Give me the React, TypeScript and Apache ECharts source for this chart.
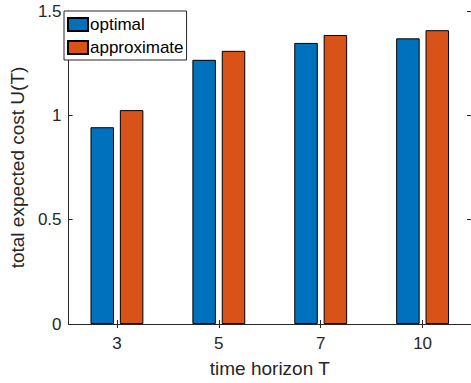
import React, { useEffect, useRef } from "react";
import * as echarts from "echarts";

const categories = ["3", "5", "7", "10"];
const optimal = [0.943, 1.266, 1.347, 1.369];
const approximate = [1.025, 1.309, 1.385, 1.408];
const yTicks = [0, 0.5, 1, 1.5];

const AX = "#262626";
const FONT = "'Liberation Sans', Arial, Helvetica, sans-serif";

export default function App() {
  const ref = useRef<HTMLDivElement>(null);
  useEffect(() => {
    const chart = echarts.init(ref.current!, null, { renderer: "svg" });
    const pos = categories.map((_, i) => i + 1);
    const tickCommon = { show: true, inside: true, length: 4, lineStyle: { color: AX, width: 1 } };
    chart.setOption({
      animation: false,
      backgroundColor: "#fff",
      textStyle: { fontFamily: FONT },
      grid: { left: 64, top: 11, width: 407, height: 313.5, containLabel: false },
      legend: {
        orient: "vertical",
        left: 64,
        top: 11,
        data: ["optimal", "approximate"],
        itemWidth: 20,
        itemHeight: 13,
        itemGap: 6,
        padding: [5, 3, 4, 3],
        borderColor: AX,
        borderWidth: 1,
        backgroundColor: "#fff",
        icon: "rect",
        textStyle: { fontSize: 17, color: "#000", fontFamily: FONT, padding: [0, 0, 0, -3] },
      },
      xAxis: [
        {
          type: "value",
          min: 0.525,
          max: 4.475,
          position: "bottom",
          name: "time horizon T",
          nameLocation: "middle",
          nameGap: 35,
          nameTextStyle: { fontSize: 19, color: AX, fontFamily: FONT },
          axisLine: { show: true, lineStyle: { color: AX, width: 1 } },
          axisTick: { ...tickCommon, customValues: pos },
          axisLabel: {
            customValues: pos,
            formatter: (v: number) => categories[Math.round(v) - 1] ?? "",
            fontSize: 17,
            color: AX,
            margin: 11,
            fontFamily: FONT,
          },
          splitLine: { show: false },
        },
        {
          type: "value",
          min: 0.525,
          max: 4.475,
          position: "top",
          axisLine: { show: true, lineStyle: { color: AX, width: 1 } },
          axisTick: { ...tickCommon, customValues: pos },
          axisLabel: { show: false },
          splitLine: { show: false },
        },
      ],
      yAxis: [
        {
          type: "value",
          min: 0,
          max: 1.5,
          interval: 0.5,
          position: "left",
          name: "total expected cost U(T)",
          nameLocation: "middle",
          nameGap: 37,
          nameTextStyle: { fontSize: 19, color: AX, fontFamily: FONT },
          axisLine: { show: true, lineStyle: { color: AX, width: 1 } },
          axisTick: tickCommon,
          axisLabel: {
            fontSize: 17,
            color: AX,
            margin: 7,
            fontFamily: FONT,
            formatter: (v: number) => (yTicks.includes(v) ? String(v) : ""),
          },
          splitLine: { show: false },
        },
        {
          type: "value",
          min: 0,
          max: 1.5,
          interval: 0.5,
          position: "right",
          axisLine: { show: true, lineStyle: { color: AX, width: 1 } },
          axisTick: tickCommon,
          axisLabel: { show: false },
          splitLine: { show: false },
        },
      ],
      series: [
        {
          name: "optimal",
          type: "bar",
          xAxisIndex: 0,
          yAxisIndex: 0,
          barWidth: 23.5,
          barGap: "25%",
          data: pos.map((p, i) => [p, optimal[i]]),
          itemStyle: { color: "#0072BD", borderColor: "#000", borderWidth: 1 },
        },
        {
          name: "approximate",
          type: "bar",
          xAxisIndex: 0,
          yAxisIndex: 0,
          barWidth: 23.5,
          barGap: "25%",
          data: pos.map((p, i) => [p, approximate[i]]),
          itemStyle: { color: "#D95319", borderColor: "#000", borderWidth: 1 },
        },
      ],
    });
    return () => chart.dispose();
  }, []);
  return (
    <div
      ref={ref}
      style={{ position: "fixed", left: 0, top: 0, width: 471, height: 383, background: "#fff" }}
    />
  );
}
